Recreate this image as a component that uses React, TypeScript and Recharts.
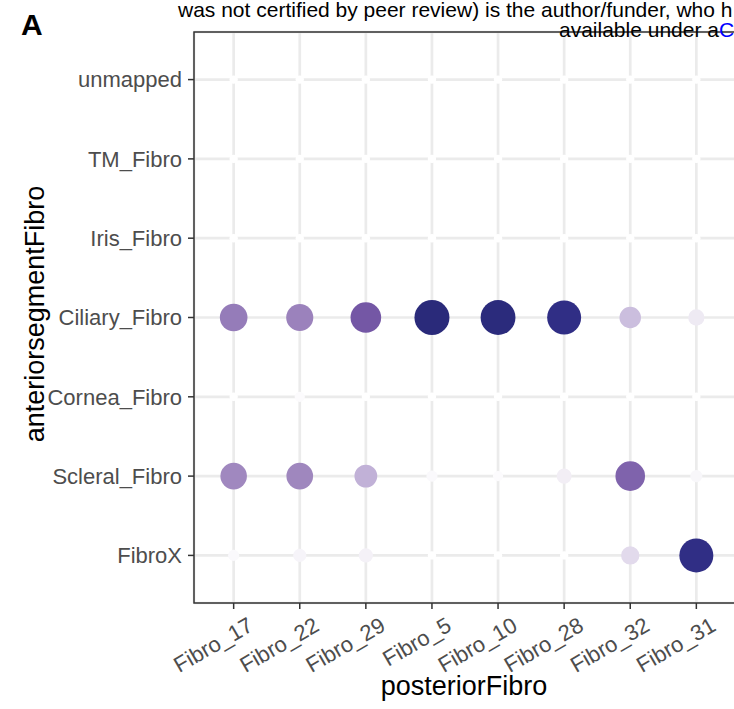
import React from 'react';
import {
  ScatterChart,
  Scatter,
  XAxis,
  YAxis,
  ZAxis,
  CartesianGrid,
  ReferenceArea,
  Cell,
} from 'recharts';

// categories
const posteriorFibro = ['Fibro_17', 'Fibro_22', 'Fibro_29', 'Fibro_5', 'Fibro_10', 'Fibro_28', 'Fibro_32', 'Fibro_31'];
const anteriorFibro = ['unmapped', 'TM_Fibro', 'Iris_Fibro', 'Ciliary_Fibro', 'Cornea_Fibro', 'Scleral_Fibro', 'FibroX'];

// scaled overlap per row, same order as posteriorFibro
const unmappedVals = [0, 0, 0, 0, 0, 0, 0, 0];
const tmVals = [0, 0, 0, 0, 0, 0, 0, 0];
const irisVals = [0, 0, 0, 0, 0, 0, 0, 0];
const ciliaryVals = [0.6, 0.575, 0.75, 1.0, 0.99, 0.94, 0.34, 0.17];
const corneaVals = [0, 0.03, 0, 0, 0, 0, 0, 0];
const scleralVals = [0.55, 0.555, 0.39, 0.046, 0.03, 0.135, 0.7, 0.067];
const fibroXVals = [0.046, 0.089, 0.114, 0, 0, 0, 0.23, 0.94];

const rowVals = [unmappedVals, tmVals, irisVals, ciliaryVals, corneaVals, scleralVals, fibroXVals];

const FONT = '"Liberation Sans", Arial, Helvetica, sans-serif';

const stops: [number, string][] = [
  [0, '#ffffff'],
  [0.17, '#eeeaf3'],
  [0.34, '#cbbede'],
  [0.55, '#a088bf'],
  [0.75, '#7457a5'],
  [0.94, '#302e85'],
  [1, '#2a2a7a'],
];

const hex = (c: string) => [1, 3, 5].map((i) => parseInt(c.slice(i, i + 2), 16));

const colorFor = (v: number) => {
  for (let i = 1; i < stops.length; i++) {
    const [v1, c1] = stops[i];
    const [v0, c0] = stops[i - 1];
    if (v <= v1) {
      const t = (v - v0) / (v1 - v0);
      const a = hex(c0);
      const b = hex(c1);
      const m = a.map((x, k) => Math.round(x + (b[k] - x) * t));
      return `rgb(${m[0]},${m[1]},${m[2]})`;
    }
  }
  return stops[stops.length - 1][1];
};

const XTick = (props: any) => {
  const { x, y, payload } = props;
  return (
    <g transform={`translate(${x + 13},${y + 4})`}>
      <text
        transform="rotate(-30)"
        textAnchor="end"
        dy="0.72em"
        fill="#4d4d4d"
        fontSize={22}
        fontFamily={FONT}
      >
        {posteriorFibro[payload.value]}
      </text>
    </g>
  );
};

export default function App() {
  const points = React.useMemo(
    () =>
      anteriorFibro.flatMap((_, yi) =>
        rowVals[yi].map((v, xi) => ({ x: xi, y: yi, v }))
      ),
    []
  );

  return (
    <div
      style={{
        position: 'absolute',
        left: 0,
        top: 0,
        width: 734,
        height: 709,
        overflow: 'hidden',
        background: '#fff',
      }}
    >
      <ScatterChart
        width={760}
        height={709}
        margin={{ top: 32, right: 24, bottom: 0, left: 0 }}
      >
        <CartesianGrid stroke="#ebebeb" strokeWidth={2.7} />
        <XAxis
          type="number"
          dataKey="x"
          domain={[-0.6, 7.6]}
          ticks={posteriorFibro.map((_, i) => i)}
          interval={0}
          height={106}
          axisLine={false}
          tickLine={{ stroke: '#333333', strokeWidth: 1.5 }}
          tickSize={6}
          tickMargin={3}
          tick={<XTick />}
        />
        <YAxis
          type="number"
          dataKey="y"
          domain={[-0.6, 6.6]}
          reversed
          ticks={anteriorFibro.map((_, i) => i)}
          interval={0}
          width={194}
          axisLine={false}
          tickLine={{ stroke: '#333333', strokeWidth: 1.5 }}
          tickSize={6}
          tickMargin={6}
          tickFormatter={(i: number) => anteriorFibro[i]}
          tick={{ fill: '#4d4d4d', fontSize: 22, fontFamily: FONT }}
        />
        <ZAxis type="number" dataKey="v" domain={[0, 1]} range={[55, 962]} />
        <ReferenceArea
          x1={-0.6}
          x2={7.6}
          y1={-0.6}
          y2={6.6}
          fill="none"
          stroke="#333333"
          strokeWidth={1.5}
          ifOverflow="visible"
        />
        <Scatter data={points} isAnimationActive={false}>
          {points.map((p, i) => (
            <Cell key={i} fill={colorFor(p.v)} />
          ))}
        </Scatter>
      </ScatterChart>
      <svg
        width={734}
        height={709}
        style={{ position: 'absolute', left: 0, top: 0, pointerEvents: 'none' }}
        fontFamily={FONT}
      >
        <text x={21} y={35} fontSize={30} fontWeight="bold" fill="#000">A</text>
        <text x={178} y={17} fontSize={21} fill="#000">
          was not certified by peer review) is the author/funder, who h
        </text>
        <text x={559} y={37} fontSize={21} fill="#000">
          available under a<tspan fill="#0000ff">C</tspan>
        </text>
        <text
          transform="translate(44,314) rotate(-90)"
          textAnchor="middle"
          fontSize={27}
          fill="#000"
        >
          anteriorsegmentFibro
        </text>
        <text x={464} y={695} textAnchor="middle" fontSize={27} fill="#000">
          posteriorFibro
        </text>
      </svg>
    </div>
  );
}
